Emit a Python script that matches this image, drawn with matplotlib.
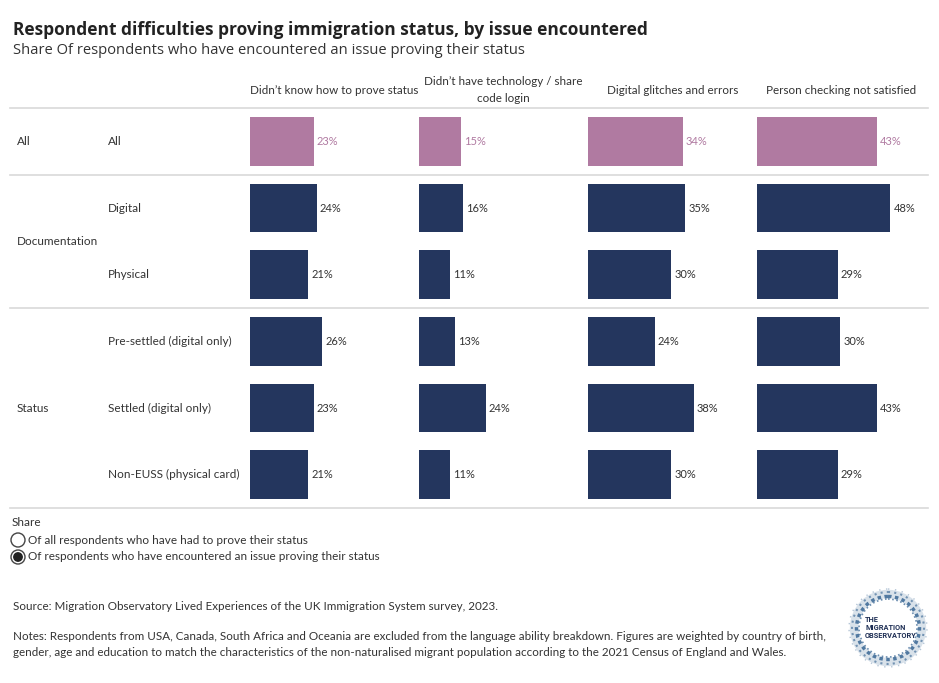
import matplotlib.pyplot as plt
from matplotlib.patches import Circle

# data
columns = ["Didn\u2019t know how to prove status",
           "Didn\u2019t have technology / share\ncode login",
           "Digital glitches and errors",
           "Person checking not satisfied"]
groups = ["All", "Documentation", "Status"]
group_rows = [[0], [1, 2], [3, 4, 5]]
rows = ["All", "Digital", "Physical", "Pre-settled (digital only)",
        "Settled (digital only)", "Non-EUSS (physical card)"]
values = [
    [23, 24, 21, 26, 23, 21],
    [15, 16, 11, 13, 24, 11],
    [34, 35, 30, 24, 38, 30],
    [43, 48, 29, 30, 43, 29],
]
notes = ["Notes: Respondents from USA, Canada, South Africa and Oceania are excluded from the language ability "
         "breakdown. Figures are weighted by country of birth,",
         "gender, age and education to match the characteristics of the non-naturalised migrant population "
         "according to the 2021 Census of England and Wales."]

PINK = "#b07aa1"
NAVY = "#24365e"
GREY_TXT = "#333333"
LINE = "#d9d9d9"

W, H = 939, 683
plt.rcParams['font.family'] = ['Lato', 'DejaVu Sans']

fig = plt.figure(figsize=(W / 100, H / 100), dpi=100)

# background axes in pixel units (y grows downwards)
bg = fig.add_axes([0, 0, 1, 1])
bg.set_xlim(0, W)
bg.set_ylim(H, 0)
bg.axis('off')

# title block
bg.text(13, 30, "Respondent difficulties proving immigration status, by issue encountered",
        fontsize=12.5, fontweight='bold', color="#222222", va='center', family='Open Sans')
bg.text(13, 51, "Share Of respondents who have encountered an issue proving their status",
        fontsize=10.6, color="#333333", va='center', family='Open Sans')

# table area
top, row_h = 108, 400 / 6
col_left, col_w = 250, 169
px_per_pct = 2.78

for y in [top, top + row_h, top + 3 * row_h, top + 6 * row_h]:
    bg.plot([10, 928], [y, y], color=LINE, lw=1.2)

for c, name in enumerate(columns):
    ax = fig.add_axes([(col_left + c * col_w) / W, 1 - (top + 6 * row_h) / H, col_w / W, 400 / H])
    ax.set_xlim(0, col_w / px_per_pct)
    ax.set_ylim(5.5, -0.5)
    ax.axis('off')
    colors = [PINK] + [NAVY] * 5
    ax.barh(range(6), values[c], height=0.73, color=colors, align='center')
    for i, v in enumerate(values[c]):
        ax.text(v + 1.1, i, f"{v}%", va='center', ha='left', fontsize=8,
                color=PINK if i == 0 else GREY_TXT)
    bg.text(col_left + c * col_w + col_w / 2, 90, name, ha='center', va='center',
            fontsize=8.4, color=GREY_TXT, linespacing=1.6)

# row labels
for g, name in enumerate(groups):
    idx = group_rows[g]
    yc = top + row_h * (idx[0] + idx[-1] + 1) / 2
    bg.text(17, yc, name, va='center', fontsize=8.5, color=GREY_TXT)
for i, name in enumerate(rows):
    bg.text(108, top + row_h * (i + 0.5), name, va='center', fontsize=8.5, color=GREY_TXT)

# parameter control
bg.text(12, 523, "Share", va='center', fontsize=8.5, color=GREY_TXT)
opts = ["Of all respondents who have had to prove their status",
        "Of respondents who have encountered an issue proving their status"]
for k, t in enumerate(opts):
    y = 540 + k * 17
    bg.add_patch(Circle((18, y), 7, fill=False, ec="#444444", lw=1))
    if k == 1:
        bg.add_patch(Circle((18, y), 4.2, color="#222222"))
    bg.text(28, y, t, va='center', fontsize=8.5, color=GREY_TXT)

# footer
bg.text(13, 606, "Source: Migration Observatory Lived Experiences of the UK Immigration System survey, 2023.",
        va='center', fontsize=8.4, color=GREY_TXT)
for k, line in enumerate(notes):
    bg.text(13, 636 + k * 17, line, va='center', fontsize=8.4, color=GREY_TXT)

# logo
lx, ly = 888, 628
for r, lw, a, ls in [(34, 6, 0.18, '-'), (31.5, 2.5, 0.8, (0, (1, 1))),
                     (36, 1.5, 0.6, (0, (1, 2))), (29, 1.2, 0.7, (0, (1, 1.5))),
                     (39, 1, 0.35, (0, (1, 4)))]:
    bg.add_patch(Circle((lx, ly), r, fill=False, ec="#2f5f8f", lw=lw, alpha=a, ls=ls))
bg.text(lx - 23, ly, "THE\nMIGRATION\nOBSERVATORY", va='center', ha='left',
        fontsize=5.3, color="#1f2f55", fontweight='bold', linespacing=1.0, family='Roboto')

fig.savefig("out.png", dpi=100)
